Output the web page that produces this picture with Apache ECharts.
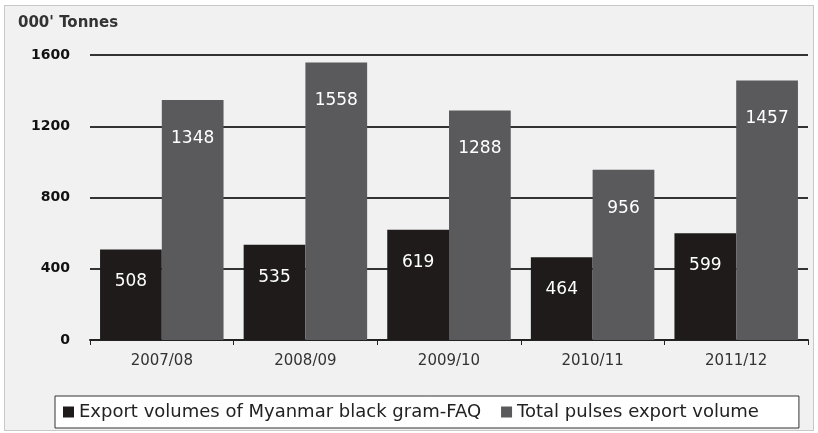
<!DOCTYPE html>
<html>
<head>
<meta charset="utf-8">
<script src="https://cdn.jsdelivr.net/npm/echarts@6/dist/echarts.min.js"></script>
<style>
  html, body { margin: 0; padding: 0; background: #fff; }
  #wrap { position: absolute; left: 4px; top: 5px; width: 808px; height: 424px;
          border: 1px solid #c8c8c8; background: #f1f1f1; }
  #chart { position: absolute; left: -5px; top: -6px; width: 818px; height: 433px; }
</style>
</head>
<body>
<div id="wrap"><div id="chart"></div></div>
<script>
// 年度
const years = ['2007/08', '2008/09', '2009/10', '2010/11', '2011/12'];
// 出口量（千吨）
const blackGram = [508, 535, 619, 464, 599];
const totalPulses = [1348, 1558, 1288, 956, 1457];
const yTicks = [0, 400, 800, 1200, 1600];

const chart = echarts.init(document.getElementById('chart'));

function barLabel(dist) {
  return {
    show: true,
    position: 'insideTop',
    distance: dist,
    color: '#fff',
    fontSize: 17,
    fontFamily: 'DejaVu Sans'
  };
}

let option = {
  animation: false,
  title: {
    text: "000' Tonnes",
    left: 13,
    top: 11,
    textStyle: { fontSize: 15, fontWeight: 'bold', color: '#333', fontFamily: 'DejaVu Sans' }
  },
  grid: { left: 90, right: 10, top: 55, bottom: 93 },
  legend: {
    bottom: 5,
    left: 55,
    itemWidth: 11,
    itemHeight: 11,
    itemGap: 20,
    icon: 'rect',
    backgroundColor: '#fff',
    borderColor: '#333',
    borderWidth: 1,
    borderRadius: 0,
    padding: [7, 40, 7, 8],
    textStyle: { fontSize: 18, color: '#222', fontFamily: 'DejaVu Sans' }
  },
  xAxis: {
    type: 'category',
    data: years,
    axisLine: { lineStyle: { color: '#222', width: 2 } },
    axisTick: { show: true, length: 5, lineStyle: { color: '#222' } },
    axisLabel: { fontSize: 15, color: '#333', margin: 14, fontFamily: 'DejaVu Sans' }
  },
  yAxis: {
    type: 'value',
    min: yTicks[0],
    max: yTicks[yTicks.length - 1],
    interval: 400,
    axisLine: { show: false },
    axisTick: { show: false },
    axisLabel: {
      fontSize: 14, fontWeight: 'bold', color: '#111', margin: 20, fontFamily: 'DejaVu Sans',
      formatter: function (v) { return String(v); }
    },
    splitLine: { lineStyle: { color: '#333', width: 2 } }
  },
  series: [
    {
      name: 'Export volumes of Myanmar black gram-FAQ',
      type: 'bar',
      data: blackGram,
      barGap: '0%',
      barCategoryGap: '14%',
      itemStyle: { color: '#1f1b1b' },
      label: barLabel(24)
    },
    {
      name: 'Total pulses export volume',
      type: 'bar',
      data: totalPulses,
      itemStyle: { color: '#5a5a5c' },
      label: barLabel(30)
    }
  ]
};

chart.setOption(option);
</script>
</body>
</html>
